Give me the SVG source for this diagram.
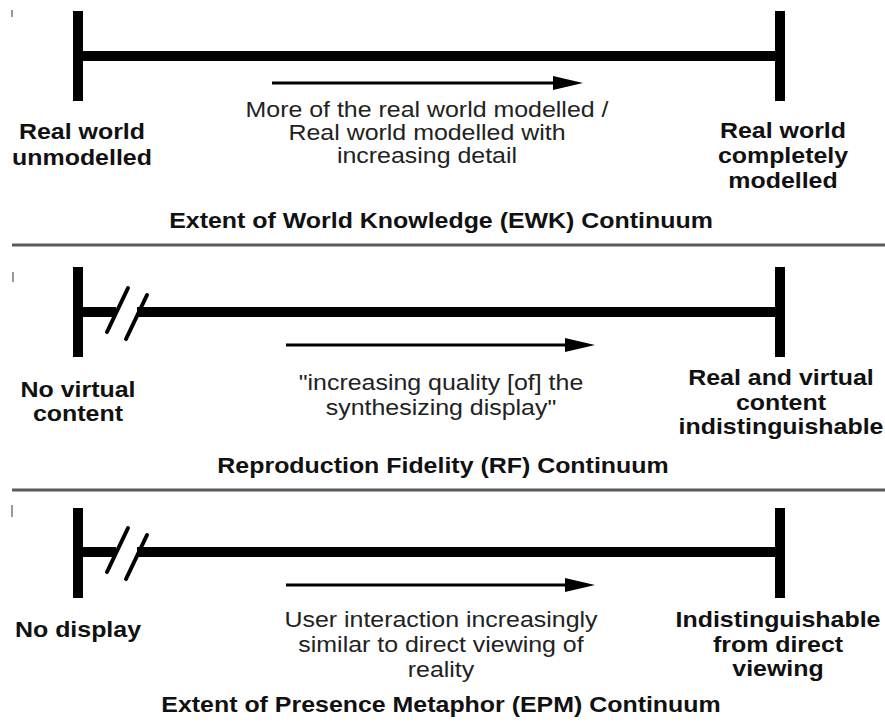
<svg xmlns="http://www.w3.org/2000/svg" width="885" height="723" viewBox="0 0 885 723">
  <style>
    .bar { stroke: #000; stroke-width: 10; fill: none; }
    .slash { stroke: #000; stroke-width: 4; stroke-linecap: round; }
    .sep { stroke: #5a5a5a; stroke-width: 3; }
    .arr { stroke: #000; stroke-width: 3; fill: none; marker-end: url(#head); }
    .b { font-family: "Liberation Sans", Arial, sans-serif; font-weight: bold; font-size: 21.5px; fill: #111; text-anchor: middle; }
    .r { font-family: "Liberation Sans", Arial, sans-serif; font-size: 21.5px; fill: #222; text-anchor: middle; }
    .tick { stroke: #999; stroke-width: 2; }
  </style>
  <defs>
    <marker id="head" viewBox="0 0 30 14" refX="2" refY="7" markerWidth="30" markerHeight="14" markerUnits="userSpaceOnUse" orient="auto">
      <path d="M0,0 L30,7 L0,14 z" fill="#000"/>
    </marker>
  </defs>
  <rect width="885" height="723" fill="#fff"/>

  <!-- small edge marks on the left margin -->
  <line class="tick" x1="12" y1="10" x2="12" y2="17"/>
  <line class="tick" x1="13" y1="272" x2="13" y2="282"/>
  <line class="tick" x1="12" y1="505" x2="12" y2="517"/>

  <!-- section separators -->
  <line class="sep" x1="12" y1="245" x2="885" y2="245"/>
  <line class="sep" x1="12" y1="490" x2="885" y2="490"/>

  <!-- Extent of World Knowledge continuum -->
  <g id="ewk">
    <line class="bar" x1="78" y1="11" x2="78" y2="101"/>
    <line class="bar" x1="780" y1="11" x2="780" y2="101"/>
    <line class="bar" x1="78" y1="56" x2="780" y2="56"/>
    <text class="b" transform="matrix(1.16 0 0 1 82 0)"><tspan x="0" y="139">Real world</tspan><tspan x="0" y="165">unmodelled</tspan></text>
    <text class="b" transform="matrix(1.16 0 0 1 783 0)"><tspan x="0" y="138">Real world</tspan><tspan x="0" y="163">completely</tspan><tspan x="0" y="188">modelled</tspan></text>
    <text class="r" transform="matrix(1.16 0 0 1 427 0)"><tspan x="0" y="117">More of the real world modelled /</tspan><tspan x="0" y="140">Real world modelled with</tspan><tspan x="0" y="163">increasing detail</tspan></text>
    <text class="b" transform="matrix(1.16 0 0 1 441 0)" x="0" y="228">Extent of World Knowledge (EWK) Continuum</text>
  </g>

  <!-- Reproduction Fidelity continuum -->
  <g id="rf">
    <line class="bar" x1="78" y1="267" x2="78" y2="357"/>
    <line class="bar" x1="780" y1="267" x2="780" y2="357"/>
    <line class="bar" x1="78" y1="312" x2="116" y2="312"/>
    <line class="bar" x1="137" y1="312" x2="780" y2="312"/>
    <line class="slash" x1="128" y1="288" x2="107" y2="332"/>
    <line class="slash" x1="147" y1="295" x2="126" y2="339"/>
    <text class="b" transform="matrix(1.16 0 0 1 78 0)"><tspan x="0" y="397">No virtual</tspan><tspan x="0" y="421">content</tspan></text>
    <text class="b" transform="matrix(1.16 0 0 1 781 0)"><tspan x="0" y="385">Real and virtual</tspan><tspan x="0" y="410">content</tspan><tspan x="0" y="434">indistinguishable</tspan></text>
    <text class="r" transform="matrix(1.16 0 0 1 441 0)"><tspan x="0" y="390">"increasing quality [of] the</tspan><tspan x="0" y="415">synthesizing display"</tspan></text>
    <text class="b" transform="matrix(1.16 0 0 1 443 0)" x="0" y="473">Reproduction Fidelity (RF) Continuum</text>
  </g>

  <!-- Extent of Presence Metaphor continuum -->
  <g id="epm">
    <line class="bar" x1="78" y1="508" x2="78" y2="598"/>
    <line class="bar" x1="780" y1="508" x2="780" y2="598"/>
    <line class="bar" x1="78" y1="552" x2="116" y2="552"/>
    <line class="bar" x1="137" y1="552" x2="780" y2="552"/>
    <line class="slash" x1="128" y1="528" x2="107" y2="572"/>
    <line class="slash" x1="147" y1="535" x2="126" y2="579"/>
    <text class="b" transform="matrix(1.16 0 0 1 78 0)" x="0" y="637">No display</text>
    <text class="b" transform="matrix(1.16 0 0 1 778 0)"><tspan x="0" y="627">Indistinguishable</tspan><tspan x="0" y="652">from direct</tspan><tspan x="0" y="676">viewing</tspan></text>
    <text class="r" transform="matrix(1.16 0 0 1 441 0)"><tspan x="0" y="627">User interaction increasingly</tspan><tspan x="0" y="652">similar to direct viewing of</tspan><tspan x="0" y="677">reality</tspan></text>
    <text class="b" transform="matrix(1.16 0 0 1 441 0)" x="0" y="712">Extent of Presence Metaphor (EPM) Continuum</text>
  </g>

  <!-- direction arrows -->
  <g id="connectors">
    <line class="arr" x1="272" y1="83" x2="555" y2="83"/>
    <line class="arr" x1="286" y1="345" x2="567" y2="345"/>
    <line class="arr" x1="286" y1="585" x2="567" y2="585"/>
  </g>
</svg>
